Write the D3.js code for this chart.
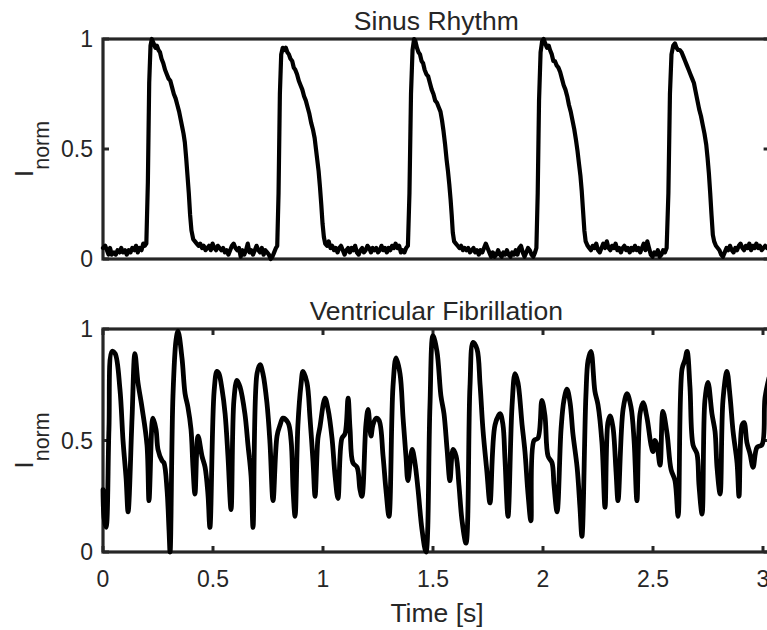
<!DOCTYPE html>
<html>
<head>
<meta charset="utf-8">
<script src="https://cdn.jsdelivr.net/npm/d3@7"></script>
<style>
    body { margin: 0; background: #fff; }
    svg { display: block; font-family: "Liberation Sans", Arial, sans-serif; }
</style>
</head>
<body>
<svg id="vis" width="767" height="630"></svg>
<script>
// optical mapping traces, normalised intensity vs time [s]
const panelTitles = ["Sinus Rhythm", "Ventricular Fibrillation"];
const xTicks = [0, 0.5, 1, 1.5, 2, 2.5, 3];
const xLabels = ["0", "0.5", "1", "1.5", "2", "2.5", "3"];
const yTicks = [0, 0.5, 1];
const yLabels = ["0", "0.5", "1"];
const xMax = 3.03;

// [t, I_norm]
const sinusTrace = [
    [0,0.05],[0.01,0.06],[0.018,0.04],[0.025,0.02],[0.032,0.05],[0.04,0.02],[0.05,0.03],[0.058,0.02],[0.066,0.04],[0.075,0.03],
    [0.083,0.05],[0.09,0.03],[0.1,0.04],[0.108,0.02],[0.117,0.04],[0.125,0.03],[0.133,0.05],[0.142,0.04],[0.15,0.06],[0.158,0.03],
    [0.166,0.05],[0.175,0.04],[0.183,0.07],[0.19,0.06],[0.197,0.07],
    [0.204,0.35],[0.21,0.8],[0.216,0.97],[0.222,1.0],[0.23,0.98],[0.238,0.96],[0.245,0.97],[0.252,0.95],[0.259,0.94],[0.266,0.91],
    [0.274,0.89],[0.282,0.86],[0.29,0.84],[0.298,0.82],[0.306,0.81],[0.314,0.78],[0.322,0.75],[0.33,0.73],[0.338,0.7],[0.346,0.67],
    [0.354,0.63],[0.36,0.6],[0.366,0.57],[0.372,0.53],[0.378,0.46],[0.384,0.38],[0.39,0.3],[0.396,0.2],[0.402,0.13],[0.41,0.09],
    [0.418,0.08],[0.426,0.07],[0.434,0.06],
    [0.442,0.07],[0.45,0.05],[0.458,0.06],[0.466,0.04],[0.474,0.05],[0.482,0.06],[0.49,0.04],[0.498,0.07],[0.506,0.05],[0.514,0.04],
    [0.522,0.06],[0.53,0.05],[0.538,0.04],[0.546,0.05],[0.554,0.03],[0.562,0.04],[0.57,0.02],[0.578,0.04],[0.586,0.06],[0.594,0.07],
    [0.602,0.05],[0.61,0.04],[0.618,0.05],[0.626,0.01],[0.634,0.04],[0.642,0.02],[0.65,0.04],[0.658,0.07],[0.666,0.03],[0.674,0.04],
    [0.682,0.02],[0.69,0.04],[0.698,0.06],[0.706,0.04],[0.714,0.03],[0.722,0.05],[0.73,0.02],[0.738,0.04],[0.746,0.03],[0.754,0.02],
    [0.762,0.0],[0.77,0.01],[0.778,0.03],[0.786,0.05],
    [0.792,0.06],[0.798,0.3],[0.804,0.75],[0.81,0.93],[0.817,0.96],[0.824,0.95],[0.831,0.96],[0.838,0.94],[0.845,0.93],[0.852,0.91],
    [0.86,0.9],[0.867,0.87],[0.874,0.86],[0.882,0.84],[0.89,0.81],[0.898,0.79],[0.906,0.77],[0.914,0.74],[0.922,0.72],[0.93,0.69],
    [0.938,0.66],[0.946,0.62],[0.954,0.59],[0.962,0.55],[0.968,0.5],[0.974,0.45],[0.98,0.4],[0.986,0.33],[0.992,0.25],[0.998,0.16],
    [1.004,0.1],[1.01,0.07],
    [1.018,0.06],[1.026,0.08],[1.034,0.05],[1.042,0.06],[1.05,0.04],[1.058,0.05],[1.066,0.03],[1.074,0.05],[1.082,0.06],[1.09,0.04],
    [1.098,0.02],[1.106,0.04],[1.114,0.05],[1.122,0.03],[1.13,0.05],[1.138,0.04],[1.146,0.06],[1.154,0.03],[1.162,0.02],[1.17,0.04],
    [1.178,0.05],[1.186,0.03],[1.194,0.04],[1.202,0.06],[1.21,0.05],[1.218,0.03],[1.226,0.05],[1.234,0.04],[1.242,0.05],[1.25,0.03],
    [1.258,0.04],[1.266,0.06],[1.274,0.04],[1.282,0.05],[1.29,0.03],[1.298,0.05],[1.306,0.04],[1.314,0.06],[1.322,0.05],[1.33,0.07],
    [1.338,0.05],[1.346,0.06],[1.354,0.03],[1.362,0.04],[1.37,0.03],[1.378,0.05],
    [1.386,0.06],[1.393,0.3],[1.4,0.75],[1.407,0.95],[1.414,1.0],[1.42,0.99],[1.427,0.96],[1.434,0.94],[1.441,0.93],[1.448,0.9],
    [1.455,0.89],[1.462,0.86],[1.47,0.84],[1.478,0.83],[1.486,0.8],[1.494,0.77],[1.502,0.75],[1.51,0.72],[1.518,0.71],[1.526,0.69],
    [1.534,0.67],[1.541,0.63],[1.548,0.58],[1.555,0.52],[1.562,0.45],[1.568,0.4],[1.574,0.34],[1.58,0.27],[1.585,0.2],[1.59,0.12],
    [1.596,0.08],[1.604,0.07],[1.612,0.06],
    [1.62,0.05],[1.628,0.06],[1.636,0.04],[1.644,0.05],[1.652,0.04],[1.66,0.05],[1.668,0.03],[1.676,0.04],[1.684,0.05],[1.692,0.03],
    [1.7,0.04],[1.708,0.02],[1.716,0.04],[1.724,0.03],[1.732,0.05],[1.74,0.07],[1.748,0.05],[1.756,0.03],[1.764,0.01],[1.772,0.03],
    [1.78,0.01],[1.788,0.02],[1.796,0.04],[1.804,0.02],[1.812,0.01],[1.82,0.03],[1.828,0.02],[1.836,0.04],[1.844,0.02],[1.852,0.01],
    [1.86,0.03],[1.868,0.02],[1.876,0.04],[1.884,0.02],[1.892,0.05],[1.9,0.06],[1.908,0.03],[1.916,0.01],[1.924,0.03],[1.932,0.05],
    [1.94,0.04],[1.948,0.02],[1.956,0.01],[1.964,0.03],[1.97,0.05],
    [1.976,0.3],[1.982,0.72],[1.989,0.94],[1.996,0.99],[2.003,1.0],[2.01,0.98],[2.018,0.96],[2.026,0.97],[2.032,0.95],[2.04,0.93],
    [2.047,0.9],[2.054,0.9],[2.062,0.88],[2.07,0.87],[2.078,0.85],[2.086,0.82],[2.094,0.79],[2.102,0.77],[2.11,0.74],[2.118,0.7],
    [2.126,0.67],[2.134,0.63],[2.142,0.59],[2.15,0.54],[2.157,0.49],[2.164,0.43],[2.17,0.38],[2.176,0.31],[2.182,0.22],[2.188,0.13],
    [2.194,0.08],[2.203,0.06],[2.21,0.05],
    [2.218,0.04],[2.226,0.06],[2.234,0.05],[2.242,0.07],[2.25,0.04],[2.258,0.03],[2.266,0.05],[2.274,0.07],[2.282,0.05],[2.29,0.08],
    [2.298,0.05],[2.306,0.04],[2.314,0.06],[2.322,0.05],[2.33,0.07],[2.338,0.04],[2.346,0.05],[2.354,0.03],[2.362,0.05],[2.37,0.06],
    [2.378,0.04],[2.386,0.05],[2.394,0.03],[2.402,0.05],[2.41,0.04],[2.418,0.06],[2.426,0.04],[2.434,0.05],[2.442,0.03],[2.45,0.05],
    [2.458,0.07],[2.466,0.04],[2.474,0.08],[2.482,0.05],[2.49,0.02],[2.498,0.01],[2.506,0.03],[2.514,0.02],[2.522,0.04],[2.53,0.01],
    [2.538,0.02],[2.546,0.04],[2.554,0.03],[2.562,0.05],
    [2.57,0.3],[2.577,0.75],[2.584,0.93],[2.592,0.97],[2.6,0.98],[2.607,0.96],[2.614,0.95],[2.622,0.95],[2.63,0.94],[2.638,0.92],
    [2.646,0.9],[2.654,0.88],[2.662,0.86],[2.67,0.84],[2.678,0.82],[2.686,0.8],[2.694,0.76],[2.702,0.72],[2.71,0.68],[2.718,0.65],
    [2.726,0.61],[2.734,0.57],[2.742,0.52],[2.748,0.46],[2.754,0.39],[2.76,0.3],[2.766,0.2],[2.772,0.11],[2.778,0.08],[2.786,0.06],
    [2.794,0.05],
    [2.802,0.04],[2.81,0.02],[2.818,0.01],[2.826,0.03],[2.834,0.05],[2.842,0.04],[2.85,0.06],[2.858,0.04],[2.866,0.03],[2.874,0.05],
    [2.882,0.04],[2.89,0.06],[2.898,0.07],[2.906,0.05],[2.914,0.04],[2.922,0.06],[2.93,0.05],[2.938,0.07],[2.946,0.04],[2.954,0.06],
    [2.962,0.05],[2.97,0.07],[2.978,0.05],[2.986,0.06],[2.994,0.04],[3.002,0.05],[3.01,0.06],[3.018,0.05],[3.026,0.06]
];

const vfTrace = [
    [0,0.28],[0.005,0.15],[0.014,0.11],[0.027,0.55],[0.041,0.9],[0.055,0.89],[0.077,0.73],[0.091,0.5],[0.105,0.33],[0.114,0.18],
    [0.132,0.6],[0.145,0.89],[0.159,0.76],[0.177,0.65],[0.2,0.48],[0.209,0.23],[0.223,0.58],[0.227,0.6],[0.241,0.55],[0.25,0.46],
    [0.268,0.41],[0.277,0.4],[0.291,0.28],[0.3,0.1],[0.305,0.0],[0.318,0.7],[0.332,0.95],[0.341,0.99],[0.359,0.87],[0.373,0.71],
    [0.386,0.65],[0.4,0.55],[0.409,0.38],[0.418,0.26],[0.432,0.52],[0.45,0.43],[0.464,0.38],[0.477,0.26],[0.486,0.11],[0.505,0.72],
    [0.518,0.81],[0.527,0.8],[0.541,0.73],[0.555,0.62],[0.568,0.43],[0.582,0.19],[0.595,0.68],[0.609,0.77],[0.623,0.74],[0.645,0.62],
    [0.659,0.48],[0.673,0.34],[0.682,0.11],[0.7,0.8],[0.714,0.84],[0.727,0.8],[0.745,0.67],[0.759,0.49],[0.773,0.23],[0.791,0.52],
    [0.805,0.57],[0.818,0.6],[0.841,0.58],[0.855,0.5],[0.864,0.28],[0.873,0.16],[0.886,0.57],[0.9,0.75],[0.909,0.81],[0.927,0.76],
    [0.941,0.6],[0.955,0.4],[0.964,0.25],[0.977,0.51],[0.986,0.56],[1.009,0.69],[1.023,0.64],[1.041,0.51],[1.055,0.34],[1.068,0.24],
    [1.086,0.51],[1.1,0.53],[1.114,0.69],[1.123,0.55],[1.136,0.4],[1.155,0.38],[1.168,0.28],[1.177,0.25],[1.195,0.57],[1.205,0.64],
    [1.218,0.52],[1.227,0.57],[1.241,0.6],[1.255,0.59],[1.273,0.43],[1.286,0.28],[1.3,0.16],[1.318,0.74],[1.332,0.87],[1.35,0.8],
    [1.364,0.6],[1.377,0.43],[1.386,0.32],[1.405,0.46],[1.418,0.4],[1.432,0.28],[1.45,0.1],[1.468,0.0],[1.486,0.65],[1.5,0.97],
    [1.518,0.9],[1.536,0.7],[1.55,0.62],[1.564,0.46],[1.577,0.32],[1.591,0.46],[1.605,0.43],[1.618,0.3],[1.632,0.14],[1.65,0.04],
    [1.668,0.74],[1.682,0.94],[1.7,0.91],[1.714,0.75],[1.727,0.55],[1.745,0.36],[1.759,0.22],[1.782,0.57],[1.805,0.62],[1.818,0.57],
    [1.827,0.42],[1.841,0.16],[1.859,0.65],[1.873,0.8],[1.886,0.76],[1.905,0.57],[1.918,0.45],[1.932,0.26],[1.945,0.14],[1.959,0.5],
    [1.977,0.51],[1.995,0.68],[2.009,0.61],[2.023,0.43],[2.041,0.4],[2.05,0.3],[2.064,0.18],[2.082,0.55],[2.095,0.68],[2.109,0.73],
    [2.123,0.67],[2.136,0.53],[2.155,0.38],[2.168,0.2],[2.177,0.07],[2.195,0.7],[2.205,0.86],[2.218,0.9],[2.236,0.72],[2.25,0.66],
    [2.268,0.49],[2.282,0.2],[2.295,0.58],[2.305,0.61],[2.318,0.56],[2.332,0.36],[2.341,0.23],[2.364,0.64],[2.382,0.71],[2.4,0.65],
    [2.414,0.5],[2.427,0.23],[2.441,0.62],[2.455,0.67],[2.473,0.6],[2.491,0.48],[2.5,0.45],[2.509,0.5],[2.518,0.48],[2.532,0.39],
    [2.545,0.63],[2.564,0.53],[2.582,0.37],[2.6,0.32],[2.614,0.16],[2.632,0.82],[2.645,0.86],[2.655,0.9],[2.668,0.74],[2.682,0.48],
    [2.7,0.44],[2.709,0.3],[2.723,0.17],[2.736,0.68],[2.75,0.76],[2.768,0.62],[2.782,0.54],[2.791,0.38],[2.805,0.26],[2.818,0.68],
    [2.836,0.81],[2.85,0.7],[2.864,0.54],[2.882,0.4],[2.891,0.25],[2.905,0.57],[2.914,0.58],[2.927,0.49],[2.941,0.44],[2.955,0.38],
    [2.973,0.47],[2.995,0.48],[3.009,0.69],[3.027,0.78]
];

const svg = d3.select('#vis');
const axisColor = "#262626";
const left = 103;
const pxPerSec = 220;
const tickLen = 6;

var x = d3.scaleLinear()
    .domain([0, xMax])
    .range([left, left + xMax * pxPerSec]);

// two stacked panels
var panels = [
    {title: panelTitles[0], data: sinusTrace, top: 39, bottom: 259, xTickMarks: false,
        curve: d3.curveLinear, width: 4.2},
    {title: panelTitles[1], data: vfTrace, top: 329, bottom: 552, xTickMarks: true,
        curve: d3.curveCatmullRom.alpha(0.5), width: 4.8}
];

panels.forEach(function (p, i) {
    var y = d3.scaleLinear().domain([0, 1]).range([p.bottom, p.top]);
    var g = svg.append("g").attr("class", "panel");
    var x0 = x(0), x1 = x(xMax);

    // box
    g.append("rect")
        .attr("x", x0)
        .attr("y", p.top)
        .attr("width", x1 - x0)
        .attr("height", p.bottom - p.top)
        .attr("fill", "none")
        .attr("stroke", axisColor)
        .attr("stroke-width", 3.2);

    // y ticks, left and right, inward
    yTicks.forEach(function (v, k) {
        g.append("line")
            .attr("x1", x0).attr("x2", x0 + tickLen)
            .attr("y1", y(v)).attr("y2", y(v))
            .attr("stroke", axisColor).attr("stroke-width", 3);
        g.append("line")
            .attr("x1", x1).attr("x2", x1 - tickLen)
            .attr("y1", y(v)).attr("y2", y(v))
            .attr("stroke", axisColor).attr("stroke-width", 3);
        g.append("text")
            .attr("x", x0 - 10)
            .attr("y", y(v))
            .attr("dy", "0.36em")
            .attr("text-anchor", "end")
            .attr("font-size", 23)
            .attr("fill", axisColor)
            .text(yLabels[k]);
    });

    if (p.xTickMarks) {
        xTicks.forEach(function (t, k) {
            g.append("line")
                .attr("x1", x(t)).attr("x2", x(t))
                .attr("y1", p.bottom).attr("y2", p.bottom - tickLen)
                .attr("stroke", axisColor).attr("stroke-width", 3);
            g.append("line")
                .attr("x1", x(t)).attr("x2", x(t))
                .attr("y1", p.top).attr("y2", p.top + tickLen)
                .attr("stroke", axisColor).attr("stroke-width", 3);
            g.append("text")
                .attr("x", x(t))
                .attr("y", p.bottom + 35)
                .attr("text-anchor", "middle")
                .attr("font-size", 23)
                .attr("fill", axisColor)
                .text(xLabels[k]);
        });
    }

    // title
    g.append("text")
        .attr("x", (x0 + x1) / 2)
        .attr("y", p.top - 9)
        .attr("text-anchor", "middle")
        .attr("font-size", 26.5)
        .attr("fill", axisColor)
        .text(p.title);

    // y label I_norm
    var lab = g.append("text")
        .attr("transform", "translate(33," + ((p.top + p.bottom) / 2) + ") rotate(-90)")
        .attr("text-anchor", "middle")
        .attr("fill", axisColor);
    lab.append("tspan").attr("font-size", 26.5).text("I");
    lab.append("tspan").attr("font-size", 21.5).attr("dy", 16).text("norm");

    // trace
    var line = d3.line()
        .x(function (d) { return x(d[0]); })
        .y(function (d) { return y(d[1]); })
        .curve(p.curve);

    g.append("path")
        .datum(p.data)
        .attr("d", line)
        .attr("fill", "none")
        .attr("stroke", "#000")
        .attr("stroke-width", p.width)
        .attr("stroke-linejoin", "round")
        .attr("stroke-linecap", "round");
});

// x axis label
svg.append("text")
    .attr("x", 437)
    .attr("y", 622)
    .attr("text-anchor", "middle")
    .attr("font-size", 26.5)
    .attr("fill", axisColor)
    .text("Time [s]");
</script>
</body>
</html>
